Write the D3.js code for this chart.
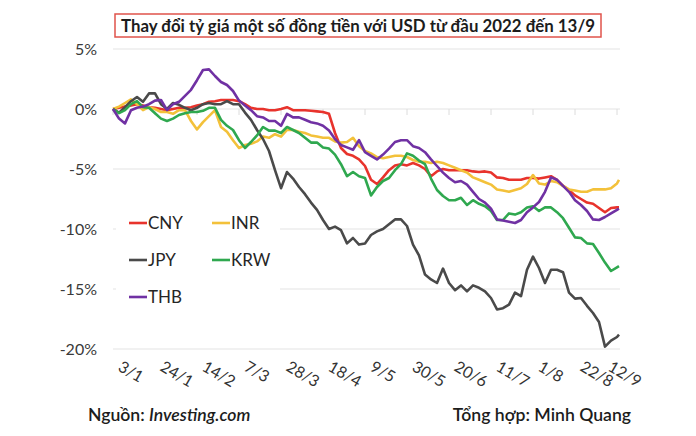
<!DOCTYPE html>
<html><head><meta charset="utf-8">
<script src="https://cdn.jsdelivr.net/npm/d3@7"></script>
<style>body{margin:0;background:#fff}svg{display:block}text{font-family:Lato,"Noto Sans",sans-serif}</style>
</head><body><svg id="c" width="696" height="436"></svg>
<script>
const dates = ["3/1","6/1","9/1","12/1","15/1","18/1","21/1","24/1","27/1","30/1",
"2/2","5/2","8/2","11/2","14/2","17/2","20/2","23/2","26/2","1/3",
"4/3","7/3","10/3","13/3","16/3","19/3","22/3","25/3","28/3","31/3",
"3/4","6/4","9/4","12/4","15/4","18/4","21/4","24/4","27/4","30/4",
"3/5","6/5","9/5","12/5","15/5","18/5","21/5","24/5","27/5","30/5",
"2/6","5/6","8/6","11/6","14/6","17/6","20/6","23/6","26/6","29/6",
"2/7","5/7","8/7","11/7","14/7","17/7","20/7","23/7","26/7","29/7",
"1/8","4/8","7/8","10/8","13/8","16/8","19/8","22/8","25/8","28/8",
"31/8","3/9","6/9","9/9","12/9","13/9"];
const CNY = [0,0.1,0.2,0.3,0.4,0.3,0.15,0.1,0,-0.1,
0,0.1,0.1,0.15,0.3,0.4,0.6,0.65,0.75,0.75,
0.75,0.65,0.4,0.1,0,0,-0.1,-0.1,0,0.15,
-0.1,-0.1,-0.1,-0.15,-0.2,-0.25,-0.4,-2.0,-3.25,-3.75,
-3.9,-4.2,-4.75,-5.9,-6.25,-5.7,-5.1,-4.7,-4.6,-4.7,
-4.5,-4.7,-5.0,-5.6,-5.2,-5.0,-5.1,-5.1,-5.1,-5.1,
-5.2,-5.25,-5.2,-5.3,-5.7,-5.75,-5.9,-5.9,-5.9,-5.75,
-5.75,-5.8,-5.7,-5.6,-5.9,-6.4,-6.75,-7.2,-7.5,-7.8,
-7.9,-8.25,-8.6,-8.25,-8.2,-8.2];
const INR = [0,0.2,0.5,0.8,0.4,-0.1,0.15,0,-0.25,-0.25,
-0.4,-0.1,-0.1,-1.0,-1.7,-1.1,-0.6,-0.1,-1.5,-1.9,
-2.6,-3.25,-3.0,-2.9,-2.7,-2.3,-2.4,-2.1,-2.3,-1.75,
-1.75,-1.9,-2.0,-2.2,-2.3,-2.4,-2.4,-2.7,-2.8,-2.75,
-2.4,-3.1,-3.5,-3.7,-4.0,-4.1,-4.0,-3.9,-3.9,-4.0,
-4.25,-4.4,-4.4,-4.5,-4.4,-4.5,-4.7,-4.9,-5.1,-5.3,
-5.7,-5.9,-6.1,-6.3,-6.7,-6.8,-6.9,-6.75,-6.6,-6.25,
-5.5,-6.2,-6.3,-6.0,-6.1,-6.4,-6.7,-6.8,-6.9,-6.9,
-6.7,-6.7,-6.7,-6.6,-6.2,-5.9];
const JPY = [0,-0.3,0.15,0.65,1.0,0.6,1.3,1.3,0.4,0,
0.5,0.35,0.1,-0.1,0.1,0.4,0.5,0.4,0.4,0.65,
0.4,0.4,-0.3,-0.9,-1.75,-2.5,-3.5,-5.1,-6.6,-5.25,
-5.8,-6.5,-7.1,-7.8,-8.4,-9.25,-10.0,-9.8,-10.1,-11.2,
-10.75,-11.3,-11.2,-10.5,-10.2,-10.0,-9.6,-9.2,-9.2,-9.75,
-11.3,-12.2,-13.8,-14.2,-14.5,-13.3,-14.5,-15.1,-14.7,-15.2,
-14.7,-14.9,-15.2,-15.75,-16.7,-16.6,-16.3,-15.3,-15.6,-13.4,
-12.3,-13.25,-14.5,-13.4,-13.4,-13.6,-15.3,-15.8,-15.75,-16.4,
-17.0,-17.75,-19.8,-19.3,-19.0,-18.8];
const KRW = [0,-0.35,-0.1,0.4,0.65,0.15,0.1,-0.35,-0.8,-1.0,
-0.8,-0.5,-0.35,-0.25,-0.25,-0.15,0.1,0.1,-0.9,-1.4,
-1.75,-2.6,-3.25,-2.75,-2.2,-1.5,-1.8,-1.8,-2.0,-1.5,
-1.75,-2.0,-2.4,-2.8,-2.8,-3.2,-3.3,-3.8,-4.6,-5.6,
-5.25,-5.6,-5.75,-7.2,-6.5,-6.0,-5.75,-5.1,-4.6,-3.7,
-3.9,-4.3,-4.6,-5.8,-6.75,-7.25,-7.6,-7.6,-7.4,-8.0,
-7.6,-7.9,-8.1,-8.5,-9.25,-9.25,-8.7,-8.8,-8.6,-8.2,
-8.1,-8.5,-8.2,-8.2,-8.6,-9.1,-9.9,-10.7,-10.75,-11.2,
-11.25,-12.0,-12.8,-13.5,-13.2,-13.1];
const THB = [0,-0.8,-1.2,-0.1,0.1,0.2,0.4,0.7,0.75,-0.1,
0.4,0.6,1.1,1.6,2.4,3.25,3.3,2.75,2.25,2.0,
1.5,0.7,0.3,-0.1,-0.6,-0.7,-1.0,-1.0,-1.4,-0.4,
-0.7,-0.7,-0.9,-1.1,-1.2,-1.4,-1.8,-2.5,-3.0,-3.2,
-3.4,-2.6,-3.6,-3.9,-4.2,-3.8,-3.3,-2.75,-2.6,-2.6,
-3.1,-3.25,-3.6,-4.2,-4.75,-5.3,-5.75,-6.1,-6.0,-6.3,
-6.9,-7.5,-7.8,-8.3,-9.2,-9.3,-9.4,-9.5,-9.25,-8.6,
-8.2,-7.75,-6.9,-5.7,-5.9,-6.4,-6.9,-7.6,-8.0,-8.5,
-9.2,-9.25,-9.0,-8.7,-8.4,-8.3];
const seriesNames = ["CNY","INR","JPY","KRW","THB"];
const seriesColors = ["#e8332c","#f3c13a","#4a4a4a","#2fa84f","#7031a3"];
const xTickLabels = ["3/1","24/1","14/2","7/3","28/3","18/4","9/5","30/5","20/6","11/7","1/8","22/8","12/9"];
const yTicks = [5,0,-5,-10,-15,-20];
const titleText = "Thay đổi tỷ giá một số đồng tiền với USD từ đầu 2022 đến 13/9";

const parse = s => d3.timeParse("%d/%m/%Y")(s + "/2022");
const values = [CNY, INR, JPY, KRW, THB];
const svg = d3.select("#c");
const L = 113, R = 617, T = 49, B = 349;
const x = d3.scaleTime().domain([parse("3/1"), parse("12/9")]).range([L, R]);
const y = d3.scaleLinear().domain([-20, 5]).range([B, T]);
const gridRight = 620;

// title
svg.append("rect").attr("x",115).attr("y",14).attr("width",486).attr("height",23)
  .attr("fill","#fff").attr("stroke","#e0534b").attr("stroke-width",1.5);
svg.append("text").attr("x",358).attr("y",31.5).attr("text-anchor","middle")
  .attr("font-size",16.5).attr("font-weight",700).attr("fill","#1c1c1c")
  .attr("textLength",474).attr("lengthAdjust","spacingAndGlyphs").text(titleText);

// grid
svg.append("g").selectAll("line").data(yTicks).join("line")
  .attr("x1",L).attr("x2",gridRight).attr("y1",d=>y(d)).attr("y2",d=>y(d))
  .attr("stroke","#e3e3e3").attr("stroke-width",1);
// y labels
svg.append("g").selectAll("text").data(yTicks).join("text")
  .attr("x",97).attr("y",d=>y(d)).attr("dy","0.35em").attr("text-anchor","end")
  .attr("font-size",16).attr("fill","#3a3a3a").text(d=>d+"%");
// x ticks on zero line
const tickDates = xTickLabels.map(parse);
svg.append("g").selectAll("line").data(tickDates).join("line")
  .attr("x1",d=>x(d)).attr("x2",d=>x(d)).attr("y1",y(0)).attr("y2",y(0)+6)
  .attr("stroke","#dcdcdc").attr("stroke-width",1);
// x labels rotated
svg.append("g").selectAll("text").data(xTickLabels).join("text")
  .attr("transform",(d,i)=>{let px = x(tickDates[i]) + 4; if (i === xTickLabels.length-1) px -= 14; return `translate(${px},${B+21}) rotate(30)`;})
  .attr("font-size",16).attr("fill","#333").text(d=>d);

// lines
const line = d3.line().x((d,i)=>x(parse(dates[i]))).y(d=>y(d));
values.forEach((v,i)=>{
  svg.append("path").datum(v).attr("d",line).attr("fill","none")
    .attr("stroke",seriesColors[i]).attr("stroke-width",2.6).attr("stroke-linejoin","round");
});

// legend
svg.append("rect").attr("x",116).attr("y",205).attr("width",164).attr("height",110).attr("fill","#fff");
const legPos = [[129,223],[212,223],[129,260],[212,260],[129,297]];
seriesNames.forEach((n,i)=>{
  const [lx,ly] = legPos[i];
  svg.append("line").attr("x1",lx).attr("x2",lx+18).attr("y1",ly).attr("y2",ly)
    .attr("stroke",seriesColors[i]).attr("stroke-width",2.6);
  svg.append("text").attr("x",lx+19).attr("y",ly).attr("dy","0.36em")
    .attr("font-size",17).attr("fill","#262626").text(n);
});

// footer
const f1 = svg.append("text").attr("x",88).attr("y",421).attr("font-size",17.6).attr("font-weight",600).attr("fill","#1c1c1c");
f1.append("tspan").text("Nguồn: ");
f1.append("tspan").attr("font-style","italic").text("Investing.com");
svg.append("text").attr("x",631).attr("y",421).attr("text-anchor","end").attr("font-size",17.6).attr("font-weight",600)
  .attr("fill","#1c1c1c").text("Tổng hợp: Minh Quang");
</script></body></html>
